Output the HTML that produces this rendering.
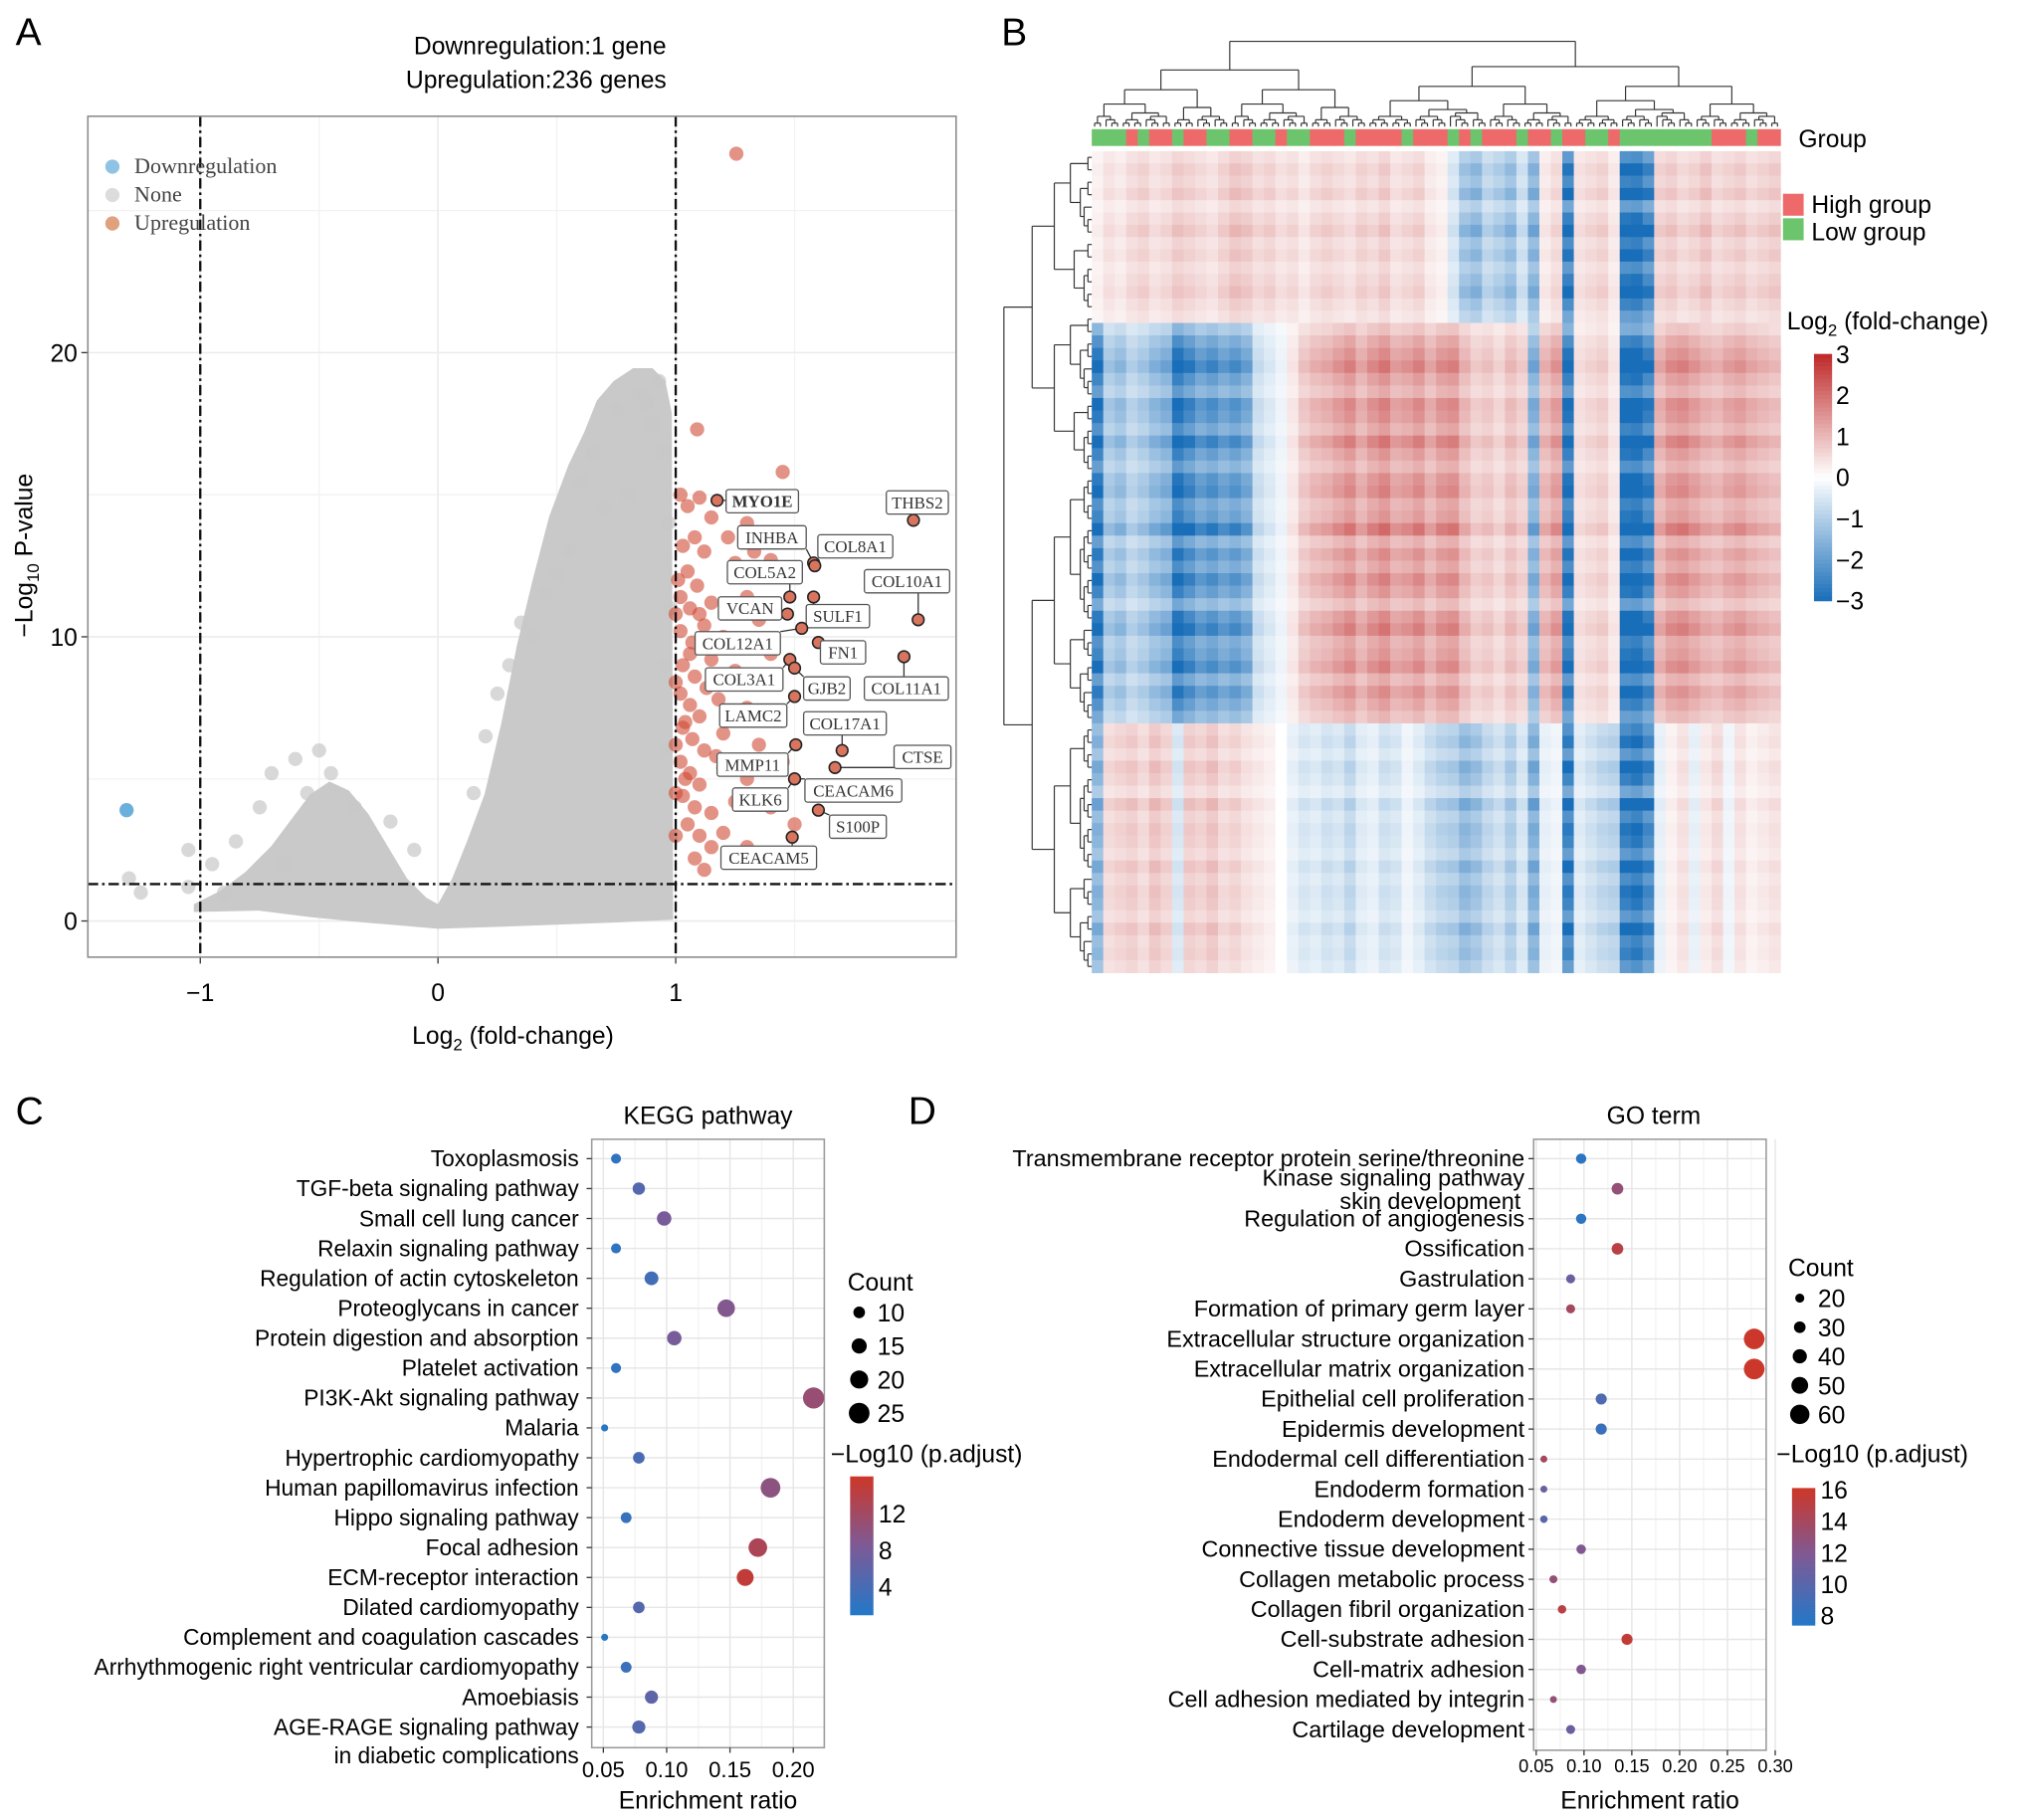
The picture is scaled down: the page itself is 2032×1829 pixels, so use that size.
<!DOCTYPE html>
<html><head><meta charset="utf-8">
<style>
html,body{margin:0;padding:0;background:#fff;}
svg{display:block;font-family:"Liberation Sans",sans-serif;}
.serif{font-family:"Liberation Serif",serif;}
</style></head>
<body>
<svg id="fig" xmlns="http://www.w3.org/2000/svg" width="2032" height="1829" viewBox="0 0 1565 1409" preserveAspectRatio="none">
  <g id="pA">
    <text x="12" y="35" font-size="30">A</text>
    <text x="418" y="42" font-size="19" text-anchor="middle">Downregulation:1 gene</text>
    <text x="415" y="68" font-size="19" text-anchor="middle">Upregulation:236 genes</text>
  </g>
  <g id="pB">
    <text x="775" y="35" font-size="30">B</text>
  </g>
  <g id="pC">
    <text x="12" y="870" font-size="30">C</text>
  </g>
  <g id="pD">
    <text x="703" y="870" font-size="30">D</text>
  </g>
</svg>
<script>
// ---------- DATA ----------
const volXTicks = [-1, 0, 1];
const volYTicks = [0, 10, 20];
const upPoints = [[1.02,15],[1.05,14.6],[1.1,14.9],[1.15,14.2],[1.03,13.2],[1.08,13.5],[1.12,13.0],[1.22,13.5],[1.05,12.3],[1.25,12.6],[1.4,12.7],[1.02,11.4],[1.06,11.0],[1.1,10.8],[1.15,11.2],[1.3,11.4],[1.02,10.2],[1.07,9.8],[1.12,10.4],[1.2,10.0],[1.35,10.6],[1.03,9.0],[1.08,8.6],[1.15,9.2],[1.25,8.8],[1.4,9.4],[1.02,8.0],[1.06,7.6],[1.1,7.2],[1.18,7.8],[1.3,7.5],[1.03,6.8],[1.07,6.4],[1.12,6.0],[1.2,6.6],[1.35,6.2],[1.02,5.6],[1.06,5.2],[1.1,4.8],[1.2,5.4],[1.3,5.0],[1.45,5.6],[1.03,4.4],[1.08,4.0],[1.15,3.8],[1.25,4.2],[1.4,4.0],[1.05,3.4],[1.1,3.0],[1.2,3.1],[1.15,2.6],[1.08,2.2],[1.12,1.8],[1.0,6.2],[1.0,8.4],[1.0,10.8],[1.01,12.0],[1.0,4.5],[1.0,3.0],[1.09,17.3],[1.45,15.8],[1.255,27.0],[1.3,14.0],[1.33,13.0],[1.5,3.4],[1.3,2.6],[1.04,7.0],[1.06,9.4],[1.09,11.8],[1.04,5.0],[1.13,8.2],[1.17,5.8]];
const downPoints = [[-1.31,3.9]];
const nonePoints = [[-1.3,1.5],[-1.25,1.0],[-1.05,2.5],[-0.95,2.0],[-0.85,2.8],[-0.75,4.0],[-0.7,5.2],[-0.6,5.7],[-0.5,6.0],[-0.45,5.2],[-0.55,4.5],[-0.35,4.0],[-0.2,3.5],[-0.9,1.0],[0.2,6.5],[0.25,8.0],[0.3,9.0],[0.45,11.5],[0.6,15.5],[0.65,16.5],[0.75,18.0],[0.85,18.5],[0.93,19],[0.9,17.5],[0.95,16.5],[0.55,13.0],[0.35,10.5],[0.15,4.5],[-0.1,2.5],[0.8,15.0],[0.7,14.5],[0.97,14.0],[0.98,11.0],[0.95,9.0],[0.96,6.0],[0.98,3.0],[-1.05,1.2],[-0.65,2.0],[0.88,18.2],[0.5,12.2],[0.4,10.0]];
const geneNames = ["MYO1E","THBS2","INHBA","COL8A1","COL5A2","COL10A1","VCAN","SULF1","COL12A1","FN1","COL3A1","GJB2","COL11A1","LAMC2","COL17A1","MMP11","CTSE","CEACAM6","KLK6","S100P","CEACAM5"];
const geneFC = [1.174,2.0,1.58,1.585,1.48,2.02,1.47,1.58,1.53,1.6,1.48,1.5,1.96,1.5,1.7,1.505,1.67,1.5,1.5,1.6,1.49];
const geneP  = [14.8,14.1,12.6,12.5,11.4,10.6,10.8,11.4,10.3,9.8,9.2,8.9,9.3,7.9,6.0,6.2,5.4,5.0,5.0,3.9,2.95];

const heatTop = [0.2,0.4,0.3,0.5,0.6,0.4,0.5,0.7,0.6,0.5,0.4,0.6,0.8,0.7,0.5,0.6,0.4,0.5,0.3,0.5,0.6,0.5,0.4,0.6,0.5,0.7,0.4,0.5,0.6,0.3,0.2,-0.5,-1.2,-1.4,-0.8,-1.0,-1.3,-0.6,-1.5,0.3,0.5,-2.6,0.4,0.5,0.6,0.3,-2.8,-2.9,-2.4,0.6,0.7,0.5,0.6,0.8,0.5,0.6,0.7,0.5,0.6,0.7];
const heatMid = [-2.5,-1,-1.2,-0.8,-1,-1.3,-1.5,-2.6,-2.2,-1.8,-2,-1.7,-1.9,-1.6,-0.6,-0.4,-0.2,0.3,0.7,0.9,1.0,1.2,1.4,1.0,1.3,1.5,1.1,1.2,1.4,1.0,1.3,1.4,0.9,0.6,0.7,0.5,0.8,0.6,-1.5,0.9,1.2,-2.6,0.4,0.5,0.6,0.3,-2.8,-2.9,-2.4,1.0,1.3,1.4,1.2,1.0,0.9,1.1,1.2,1.0,0.9,0.8];
const heatBot = [-1.5,0.5,0.6,0.7,0.5,0.8,0.6,-0.5,0.7,0.6,0.8,0.5,0.6,0.4,0.3,0.2,0.0,-0.3,-0.5,-0.4,-0.6,-0.5,-0.8,-0.4,-0.3,-0.6,-0.5,-0.2,-0.4,-0.7,-0.9,-1.0,-1.4,-1.2,-0.8,-0.6,-1.0,-0.5,-1.6,-0.3,-0.2,-2.5,-0.4,-0.6,-0.8,-0.9,-2.6,-2.8,-2.3,-0.3,0.2,0.4,-0.3,0.3,0.5,-0.2,0.4,0.2,0.3,0.4];
const rowScaleTop = [0.8,1.1,0.9,1.2,0.7,1.0,1.3,0.9,1.1,0.8,1.0,1.2,0.9,0.7];
const rowScaleMid = [0.6,0.9,1.1,1.3,1.0,0.8,1.2,1.1,0.9,1.3,1.0,0.8,1.1,1.2,0.9,1.0,1.4,0.8,1.1,0.9,1.2,1.0,0.7,1.1,1.3,0.9,1.0,1.2,0.8,1.1,0.9,0.7];
const rowScaleBot = [0.9,1.1,0.8,1.2,1.0,0.7,1.3,0.9,1.1,1.0,0.8,1.2,0.9,1.1,1.0,0.8,1.2,0.9,1.0,0.8];
const groupPattern = "GGGRGRRGRRGGRRGGRGGRRRGRRRRGRRRGRGRRRGRRGRRGGRGGGGGGGGRRRGRR";
const heatTicks = [3,2,1,0,-1,-2,-3];

const keggTerms = ["Toxoplasmosis","TGF-beta signaling pathway","Small cell lung cancer","Relaxin signaling pathway","Regulation of actin cytoskeleton","Proteoglycans in cancer","Protein digestion and absorption","Platelet activation","PI3K-Akt signaling pathway","Malaria","Hypertrophic cardiomyopathy","Human papillomavirus infection","Hippo signaling pathway","Focal adhesion","ECM-receptor interaction","Dilated cardiomyopathy","Complement and coagulation cascades","Arrhythmogenic right ventricular cardiomyopathy","Amoebiasis","AGE-RAGE signaling pathway"];
const keggRatio = [0.060,0.078,0.098,0.060,0.088,0.147,0.106,0.060,0.216,0.051,0.078,0.182,0.068,0.172,0.162,0.078,0.051,0.068,0.088,0.078];
const keggCount = [8,11,14,8,13,19,14,8,26,5,10,23,9,21,18,10,5,9,12,12];
const keggP = [2,5,8,2,3.5,9,8,2,11,1.5,4,10,2.5,13,15,5,1.5,3,6,5];
const keggXTicks = [0.05,0.10,0.15,0.20];
const keggCountTicks = [10,15,20,25];
const keggColorTicks = [12,8,4];

const goTerms = ["Transmembrane receptor protein serine/threonine","Kinase signaling pathway","Regulation of angiogenesis","Ossification","Gastrulation","Formation of primary germ layer","Extracellular structure organization","Extracellular matrix organization","Epithelial cell proliferation","Epidermis development","Endodermal cell differentiation","Endoderm formation","Endoderm development","Connective tissue development","Collagen metabolic process","Collagen fibril organization","Cell-substrate adhesion","Cell-matrix adhesion","Cell adhesion mediated by integrin","Cartilage development"];
const goRatio = [0.097,0.135,0.097,0.135,0.086,0.086,0.278,0.278,0.118,0.118,0.058,0.058,0.058,0.097,0.068,0.077,0.145,0.097,0.068,0.086];
const goCount = [25,30,25,30,20,20,65,65,28,28,12,12,14,22,16,18,28,22,12,20];
const goP = [7.8,13,7.8,15,11,14,16,16,9.5,8.5,14,11,10,12,13,15,15.5,12,13,11];
const goXTicks = [0.05,0.10,0.15,0.20,0.25,0.30];
const goCountTicks = [20,30,40,50,60];
const goColorTicks = [16,14,12,10,8];

// ---------- HELPERS ----------
const NS = "http://www.w3.org/2000/svg";
function mk(parent, tag, attrs, text){
  const e = document.createElementNS(NS, tag);
  for (const k in attrs) e.setAttribute(k, attrs[k]);
  if (text !== undefined) e.textContent = text;
  parent.appendChild(e);
  return e;
}
function lerp(a,b,t){return a+(b-a)*t;}
function mixRGB(c1,c2,t){return `rgb(${Math.round(lerp(c1[0],c2[0],t))},${Math.round(lerp(c1[1],c2[1],t))},${Math.round(lerp(c1[2],c2[2],t))})`;}
function divColor(v){
  v = Math.max(-3, Math.min(3, v));
  if (v < 0) return mixRGB([255,255,255],[25,110,185], -v/3);
  return mixRGB([255,255,255],[190,40,40], v/3);
}
function seqColor(v, lo, hi){
  let t = Math.max(0, Math.min(1, (v-lo)/(hi-lo)));
  if (t < 0.5) return mixRGB([35,120,200],[125,90,150], t*2);
  return mixRGB([125,90,150],[205,55,40], (t-0.5)*2);
}

// ---------- PANEL A ----------
const pA = document.getElementById('pA');
const ax = {l:68, r:740, t:90, b:741};
const vx = v => 339 + v*184;
const vy = v => 713 - v*22;
let e = mk(pA,'rect',{x:ax.l,y:ax.t,width:ax.r-ax.l,height:ax.b-ax.t,fill:'#fff'});


[-0.5,0.5,1.5].forEach(v=>{ mk(pA,'line',{x1:vx(v),x2:vx(v),y1:ax.t,y2:ax.b,stroke:'#f2f2f2','stroke-width':1}); });
[5,15,25].forEach(v=>{ mk(pA,'line',{x1:ax.l,x2:ax.r,y1:vy(v),y2:vy(v),stroke:'#f2f2f2','stroke-width':1}); });
volXTicks.forEach(v=>{
  mk(pA,'line',{x1:vx(v),x2:vx(v),y1:ax.t,y2:ax.b,stroke:'#ebebeb','stroke-width':1.2});
  const t = mk(pA,'text',{x:vx(v),y:ax.b+34,'font-size':19,'text-anchor':'middle'}, v<0?'\u2212'+(-v):String(v));
  
  
  mk(pA,'line',{x1:vx(v),x2:vx(v),y1:ax.b,y2:ax.b+5,stroke:'#333'});
});
volYTicks.forEach(v=>{
  mk(pA,'line',{x1:ax.l,x2:ax.r,y1:vy(v),y2:vy(v),stroke:'#ebebeb','stroke-width':1.2});
  const t = mk(pA,'text',{x:ax.l-8,y:vy(v)+7,'font-size':19,'text-anchor':'end'}, String(v));
  
  
  mk(pA,'line',{x1:ax.l-5,x2:ax.l,y1:vy(v),y2:vy(v),stroke:'#333'});
});
e = mk(pA,'polygon',{points:"150,700 170,690 190,675 210,655 225,635 240,615 255,605 270,612 285,630 300,655 315,680 330,695 339,700 350,680 362,650 375,615 388,560 400,500 412,450 425,400 440,360 452,335 462,310 475,295 490,285 505,285 515,295 520,320 521,712 480,714 400,717 339,719 280,714 240,710 200,705 150,706",fill:'#c9c9c9'});


nonePoints.forEach(p=>{
  const c = mk(pA,'circle',{cx:vx(p[0]),cy:vy(p[1]),r:5.5,fill:'#c8c8c8','fill-opacity':0.7});
  
  
});
upPoints.forEach(p=>{
  const c = mk(pA,'circle',{cx:vx(p[0]),cy:vy(p[1]),r:5.5,fill:'#d04a36','fill-opacity':0.6});
  
  
});
downPoints.forEach(p=>{
  const c = mk(pA,'circle',{cx:vx(p[0]),cy:vy(p[1]),r:5.5,fill:'#6bb0dc'});
  
  
});
[['v',-1],['v',1],['h',1.3]].forEach(d=>{
  const attrs = d[0]==='v' ? {x1:vx(d[1]),x2:vx(d[1]),y1:ax.t,y2:ax.b} : {x1:ax.l,x2:ax.r,y1:vy(d[1]),y2:vy(d[1])};
  Object.assign(attrs,{stroke:'#111','stroke-width':1.8,'stroke-dasharray':'8,3,2,3'});
  const l = mk(pA,'line',attrs);
  
  
});
const labelBoxes = [[562,379,56],[686,380,48],[571,407,53],[633,414,58],[563,434,58],[669,441,66],[556,462,49],[624,468,49],[538,489,66],[635,496,35],[546,517,60],[622,524,36],[669,524,65],[557,545,52],[622,551,64],[555,583,55],[692,577,44],[623,603,75],[567,610,43],[642,631,44],[558,655,74]];
geneNames.forEach((g,i)=>{
  const px = vx(geneFC[i]), py = vy(geneP[i]);
  const b = labelBoxes[i];
  const bx = b[0], by = b[1], bw = b[2], bh = 18;
  const cx = Math.max(bx, Math.min(bx+bw, px)), cy = Math.max(by, Math.min(by+bh, py));
  mk(pA,'line',{x1:px,y1:py,x2:cx,y2:cy,stroke:'#333','stroke-width':1});
  const c = mk(pA,'circle',{cx:px,cy:py,r:4.5,fill:'#d9755f',stroke:'#222','stroke-width':1.2});
  
  
  const r = mk(pA,'rect',{x:bx,y:by,width:bw,height:bh,fill:'#fff',stroke:'#555','stroke-width':1,rx:2});
  
  
  const t = mk(pA,'text',{x:bx+bw/2,y:by+13.5,'font-size':13,'text-anchor':'middle',class:'serif',fill:'#333','font-weight':i===0?'bold':'normal'}, g);
  
  
});
e = mk(pA,'rect',{x:ax.l,y:ax.t,width:ax.r-ax.l,height:ax.b-ax.t,fill:'none',stroke:'#8a8a8a','stroke-width':1.2});
[['Downregulation','#8ec3e4'],['None','#dcdcdc'],['Upregulation','#e0a27e']].forEach((d,i)=>{
  const c = mk(pA,'circle',{cx:87,cy:129+i*22,r:5.5,fill:d[1]});
  
  
  const t = mk(pA,'text',{x:104,y:134+i*22,'font-size':17,class:'serif',fill:'#444'}, d[0]);
  
  
});
e = mk(pA,'text',{x:319,y:808,'font-size':19});


e.innerHTML = 'Log<tspan font-size="13" dy="5">2</tspan><tspan dy="-5"> (fold-change)</tspan>';
e = mk(pA,'text',{transform:'translate(25,430) rotate(-90)','font-size':19,'text-anchor':'middle'});


e.innerHTML = '\u2212Log<tspan font-size="13" dy="5">10</tspan><tspan dy="-5"> P-value</tspan>';

// ---------- PANEL B ----------
const pB = document.getElementById('pB');
const hx0 = 845, hx1 = 1378, hy0 = 117, hy1 = 753;
const nCol = heatMid.length, cw = (hx1-hx0)/nCol;
const blocks = [[heatTop,rowScaleTop,117,250],[heatMid,rowScaleMid,250,560],[heatBot,rowScaleBot,560,753]];
const hg = mk(pB,'g',{});


blocks.forEach(bk=>{
  const vals = bk[0], rs = bk[1], rh = (bk[3]-bk[2])/rs.length;
  rs.forEach((s,ri)=>{
    vals.forEach((v,ci)=>{
      const r = mk(hg,'rect',{x:hx0+ci*cw,y:bk[2]+ri*rh,width:cw+0.4,height:rh+0.4,fill:divColor(v*s)});
      
      
    });
  });
});
for (let i=0;i<groupPattern.length;i++){
  const r = mk(pB,'rect',{x:hx0+i*cw,y:100,width:cw+0.4,height:13,fill:groupPattern[i]==='R'?'#ee6a6a':'#6cc46c'});
  
  
}
e = mk(pB,'text',{x:1392,y:114,'font-size':19},'Group');


const dg = mk(pB,'g',{stroke:'#333','stroke-width':0.9,fill:'none'});


function drawTree(group, n, x0, x1, base, span, horiz){
  const holder = mk(group,'g',{});
  const lines = [];
  function t(lo,hi,depth){
    if (hi-lo<=1) return [(lo+hi)/2,0];
    const mid = Math.max(lo+1, Math.min(hi-1, Math.floor((lo+hi)/2 + ((depth%3)-1)*(hi-lo)*0.1)));
    const a=t(lo,mid,depth+1), b=t(mid,hi,depth+1);
    const h=Math.max(a[1],b[1])+1+(depth<4?(4-depth)*1.6:0);
    lines.push([a[0],a[1],h],[b[0],b[1],h],['bar',a[0],b[0],h]);
    return [(a[0]+b[0])/2,h];
  }
  const root = t(0,n,0);
  const sc = span/root[1], step=(x1-x0)/n;
  lines.forEach(L=>{
    if (L[0]==='bar'){
      const p1=x0+L[1]*step, p2=x0+L[2]*step, q=base-L[3]*sc;
      if (horiz) mk(holder,'line',{x1:p1,x2:p2,y1:q,y2:q}); else mk(holder,'line',{y1:p1,y2:p2,x1:q,x2:q});
    } else {
      const p=x0+L[0]*step, q1=base-L[1]*sc, q2=base-L[2]*sc;
      if (horiz) mk(holder,'line',{x1:p,x2:p,y1:q1,y2:q2}); else mk(holder,'line',{y1:p,y2:p,x1:q1,x2:q2});
    }
  });
}
drawTree(dg, 120, hx0, hx1, 98, 66, true);
drawTree(dg, 66, hy0, hy1, 845, 68, false);
e = mk(pB,'rect',{x:1380,y:150,width:16,height:17,fill:'#ee6a6a'});


e = mk(pB,'rect',{x:1380,y:169,width:16,height:17,fill:'#6cc46c'});


e = mk(pB,'text',{x:1402,y:165,'font-size':19},'High group');


e = mk(pB,'text',{x:1402,y:186,'font-size':19},'Low group');


e = mk(pB,'text',{x:1383,y:255,'font-size':19});


e.innerHTML = 'Log<tspan font-size="13" dy="5">2</tspan><tspan dy="-5"> (fold-change)</tspan>';
const cbTop=274, cbBot=465;
const cby = v => cbTop + (3-v)/6*(cbBot-cbTop);
for (let i=0;i<60;i++){
  const v = 3 - i*6/60;
  mk(pB,'rect',{x:1404,y:cbTop+i*(cbBot-cbTop)/60,width:14,height:(cbBot-cbTop)/60+0.5,fill:divColor(v-0.05)});
}
heatTicks.forEach(v=>{
  const t = mk(pB,'text',{x:1421,y:cby(v)+7,'font-size':19}, v<0?'\u2212'+(-v):String(v));
  
  
});

// ---------- DOT PLOTS ----------
function dotPlot(g, cfg){
  const {l,r,t,b,y0,dy,terms,ratio,count,pv,xTicks,xs,rad,col,tickSize,title,titleX} = cfg;
  let e = mk(g,'rect',{x:l,y:t,width:r-l,height:b-t,fill:'#fff'});
  
  
  for (let i=0;i<xTicks.length;i++){
    const v=xTicks[i]+0.025; if (xs(v)<r) mk(g,'line',{x1:xs(v),x2:xs(v),y1:t,y2:b,stroke:'#f3f3f3'});
  }
  xTicks.forEach(v=>{ mk(g,'line',{x1:xs(v),x2:xs(v),y1:t,y2:b,stroke:'#e6e6e6','stroke-width':1.1}); });
  terms.forEach((_,i)=>{ mk(g,'line',{x1:l,x2:r,y1:y0+i*dy,y2:y0+i*dy,stroke:'#e6e6e6','stroke-width':1.1}); });
  mk(g,'rect',{x:l,y:t,width:r-l,height:b-t,fill:'none',stroke:'#9a9a9a','stroke-width':1.2});
  terms.forEach((term,i)=>{
    const c = mk(g,'circle',{cx:xs(ratio[i]),cy:y0+i*dy,r:rad(count[i]),fill:col(pv[i])});
    
    
    mk(g,'line',{x1:l-4,x2:l,y1:y0+i*dy,y2:y0+i*dy,stroke:'#333'});
  });
  xTicks.forEach(v=>{
    mk(g,'line',{x1:xs(v),x2:xs(v),y1:b,y2:b+4,stroke:'#333'});
    const tx = mk(g,'text',{x:xs(v),y:b+cfg.tickDy,'font-size':tickSize,'text-anchor':'middle'}, v.toFixed(2));
    
    
  });
  e = mk(g,'text',{x:titleX,y:870,'font-size':19,'text-anchor':'middle'}, title);
  
  
  e = mk(g,'text',{x:(l+r)/2,y:cfg.xTitleY,'font-size':19,'text-anchor':'middle'}, 'Enrichment ratio');
  
  
}
function label(g, x, y, txt, size, name){
  const t = mk(g,'text',{x:x,y:y,'font-size':size,'text-anchor':'end'}, txt);
  
  
}
function sizeLegend(g, x, y0, dy, ticks, rad, title, titleY, prefix){
  let t = mk(g,'text',{x:x-9,y:titleY,'font-size':19}, title);
  
  
  ticks.forEach((v,i)=>{
    const c = mk(g,'circle',{cx:x,cy:y0+i*dy,r:rad(v),fill:'#000'});
    
    
    const tt = mk(g,'text',{x:x+14,y:y0+i*dy+7,'font-size':19}, String(v));
    
    
  });
}
function colorLegend(g, x, top, bot, lo, hi, ticks, titleX, prefix){
  let t = mk(g,'text',{x:titleX,y:1132,'font-size':19}, '\u2212Log10 (p.adjust)');
  
  
  const n=50;
  for (let i=0;i<n;i++){
    const v = hi - (i+0.5)*(hi-lo)/n;
    mk(g,'rect',{x:x,y:top+i*(bot-top)/n,width:18,height:(bot-top)/n+0.5,fill:seqColor(v,lo,hi)});
  }
  ticks.forEach(v=>{
    const yy = top + (hi-v)/(hi-lo)*(bot-top);
    const tt = mk(g,'text',{x:x+22,y:yy+7,'font-size':19}, String(v));
    
    
  });
}

const pC = document.getElementById('pC');
const kxs = v => 467 + (v-0.05)/0.05*49;
const krad = c => 1.9*Math.sqrt(c)-1.5;
const kLo = 0.9, kHi = 16.1;
dotPlot(pC,{prefix:'kegg',l:458,r:638,t:882,b:1353,y0:897,dy:23.16,terms:keggTerms,ratio:keggRatio,count:keggCount,pv:keggP,xTicks:keggXTicks,xs:kxs,rad:krad,col:v=>seqColor(v,kLo,kHi),tickSize:17,tickDy:23,title:'KEGG pathway',titleX:548,xTitleY:1400});
keggTerms.forEach((term,i)=>{
  label(pC, 448, 897+i*23.16+6, term, 17.5, 'kegg-term-label');
});
label(pC, 448, 1365, 'in diabetic complications', 17.5, 'kegg-term-label-line2');
sizeLegend(pC, 665, 1016, 26, keggCountTicks, krad, 'Count', 999, 'kegg');
colorLegend(pC, 658, 1143, 1250, kLo, kHi, keggColorTicks, 643, 'kegg');

const pD = document.getElementById('pD');
const gxs = v => 1189 + (v-0.05)/0.05*37;
const grad = c => 0.1*c+1.5;
const gLo = 7.4, gHi = 16.1;
dotPlot(pD,{prefix:'go',l:1187,r:1367,t:882,b:1355,y0:897,dy:23.26,terms:goTerms,ratio:goRatio,count:goCount,pv:goP,xTicks:goXTicks,xs:gxs,rad:grad,col:v=>seqColor(v,gLo,gHi),tickSize:14,tickDy:17,title:'GO term',titleX:1280,xTitleY:1400});
goTerms.forEach((term,i)=>{
  let yy = 897+i*23.26+6;
  if (i===1) yy = 918;
  label(pD, 1180, yy, term, 18, 'go-term-label');
});
label(pD, 1177, 936, 'skin development', 18, 'go-term-label-line2');
sizeLegend(pD, 1393, 1005, 22.5, goCountTicks, grad, 'Count', 988, 'go');
colorLegend(pD, 1387, 1152, 1258, gLo, gHi, goColorTicks, 1375, 'go');
</script>
</body></html>
